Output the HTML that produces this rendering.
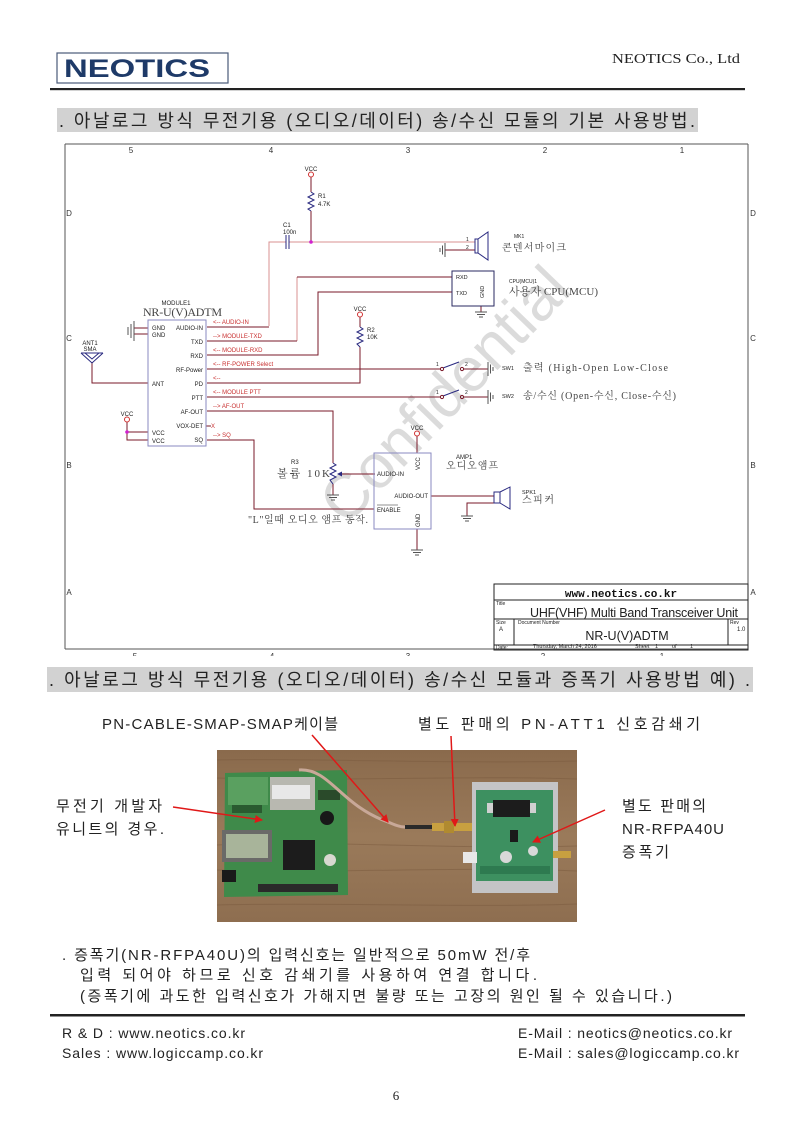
<!DOCTYPE html>
<html><head><meta charset="utf-8">
<style>
html,body{margin:0;padding:0;background:#fff;}
svg{display:block;}
</style></head><body>
<svg width="793" height="1121" viewBox="0 0 793 1121" xmlns="http://www.w3.org/2000/svg">
<defs>
<marker id="ar" markerWidth="8" markerHeight="8" refX="7" refY="4" orient="auto" markerUnits="userSpaceOnUse">
<path d="M0,0 L8,4 L0,8 z" fill="#e01818"/>
</marker>
<clipPath id="cb"><rect x="0" y="640" width="793" height="16"/></clipPath>
<linearGradient id="wood" x1="0" y1="0" x2="0" y2="1">
<stop offset="0" stop-color="#8a6a4c"/><stop offset="0.5" stop-color="#9a7a5a"/><stop offset="1" stop-color="#8e6e50"/>
</linearGradient>
</defs>

<!-- HEADER -->
<rect x="57" y="53" width="171" height="30" fill="#fff" stroke="#4a5a78" stroke-width="1.2"/>
<text x="64" y="77" font-family="Liberation Sans, sans-serif" font-weight="bold" font-size="25" fill="#1e3a68" textLength="146" lengthAdjust="spacingAndGlyphs">NEOTICS</text>
<text x="612" y="63" font-family="Liberation Serif, serif" font-size="14" fill="#222" textLength="128" lengthAdjust="spacingAndGlyphs">NEOTICS Co., Ltd</text>
<rect x="50" y="88" width="695" height="2.2" fill="#222"/>

<!-- TITLE BAR 1 -->
<rect x="57" y="108" width="641" height="24" fill="#d2d2d2"/>
<text x="59" y="127" font-family="Liberation Sans, Noto Sans CJK KR, sans-serif" font-size="18" fill="#222" textLength="636">. 아날로그 방식 무전기용 (오디오/데이터) 송/수신 모듈의 기본 사용방법.</text>

<!-- SCHEMATIC FRAME -->
<g stroke="#555" stroke-width="1" fill="none">
<line x1="65" y1="144" x2="748" y2="144"/>
<line x1="65" y1="144" x2="65" y2="649"/>
<line x1="748" y1="144" x2="748" y2="650"/>
<line x1="65" y1="649" x2="748" y2="649"/>
</g>
<g font-family="Liberation Sans, sans-serif" font-size="8" fill="#333" text-anchor="middle">
<text x="131" y="153">5</text><text x="271" y="153">4</text><text x="408" y="153">3</text><text x="545" y="153">2</text><text x="682" y="153">1</text>
<text x="69" y="216">D</text><text x="69" y="341">C</text><text x="69" y="468">B</text><text x="69" y="595">A</text>
<text x="753" y="216">D</text><text x="753" y="341">C</text><text x="753" y="468">B</text><text x="753" y="595">A</text>
<g clip-path="url(#cb)"><text x="135" y="659">5</text><text x="272" y="659">4</text><text x="408" y="659">3</text><text x="543" y="659">2</text><text x="662" y="659">1</text></g>
</g>

<!-- WATERMARK -->
<text x="0" y="0" transform="translate(445,395) rotate(-46)" text-anchor="middle" dominant-baseline="central" font-family="Liberation Sans, sans-serif" font-size="62" fill="#000" fill-opacity="0.14">Confidential</text>

<!-- WIRES -->
<g fill="none" stroke-width="1">
<g stroke="#d89090">
<polyline points="269,326 269,242 286,242"/>
<line x1="289" y1="242" x2="475" y2="242"/>
<line x1="297" y1="277" x2="297" y2="341"/>
</g>
<g stroke="#7a1a2a">
<line x1="207" y1="327" x2="269" y2="327"/>
<line x1="207" y1="341" x2="297" y2="341"/>
<line x1="297" y1="277" x2="452" y2="277"/>
<polyline points="207,355 318,355 318,292 452,292"/>
<line x1="207" y1="369" x2="441" y2="369"/>
<polyline points="207,383 360,383 360,347"/>
<line x1="207" y1="397" x2="441" y2="397"/>
<polyline points="207,411 333,411 333,463"/>
<polyline points="207,440 254,440 254,509 374,509"/>
<line x1="375" y1="474" x2="340" y2="474"/>
<line x1="431" y1="496" x2="494" y2="496"/>
<polyline points="494,503 467,503 467,516"/>
<line x1="417" y1="436" x2="417" y2="453"/>
<line x1="417" y1="529" x2="417" y2="550"/>
<line x1="333" y1="484" x2="333" y2="495"/>
<line x1="360" y1="317" x2="360" y2="327"/>
<line x1="311" y1="177" x2="311" y2="192"/>
<line x1="311" y1="211" x2="311" y2="242"/>
<line x1="464" y1="369" x2="488" y2="369"/>
<line x1="464" y1="397" x2="488" y2="397"/>
<line x1="445" y1="250" x2="475" y2="250"/>
<line x1="481" y1="306" x2="481" y2="312"/>
<polyline points="92,362 92,383 148,383"/>
<line x1="134" y1="328" x2="148" y2="328"/>
<line x1="134" y1="334" x2="148" y2="334"/>
<polyline points="127,422 127,440 148,440"/>
<line x1="127" y1="432" x2="148" y2="432"/>
<line x1="206" y1="426" x2="211" y2="426"/>
</g>
</g>

<!-- COMPONENT SYMBOLS -->
<g fill="none" stroke="#2a2a80" stroke-width="1">
<polyline points="311,192 314,194 308,197 314,200 308,203 314,206 308,209 311,211"/>
<polyline points="360,327 363,329 357,332 363,335 357,338 363,341 357,344 360,347"/>
<polyline points="333,463 336,465 330,468 336,471 330,474 336,477 330,480 333,484"/>
<line x1="286" y1="235" x2="286" y2="249"/>
<line x1="289" y1="235" x2="289" y2="249"/>
<!-- mic -->
<rect x="475" y="239" width="3" height="14"/>
<polyline points="478,239 488,232 488,260 478,253"/>
<!-- speaker -->
<rect x="494" y="492" width="6" height="11"/>
<polyline points="500,492 510,487 510,509 500,503"/>
<!-- switches -->
<line x1="443" y1="368" x2="459" y2="362"/>
<line x1="443" y1="396" x2="459" y2="390"/>
<!-- antenna -->
<polyline points="81,353 92,363 103,353"/>
<polyline points="85,353 92,359 99,353"/>
<line x1="81" y1="353" x2="103" y2="353"/>
</g>
<g fill="none" stroke="#7a1a2a" stroke-width="1">
<circle cx="442" cy="369" r="1.6"/><circle cx="462" cy="369" r="1.6"/>
<circle cx="442" cy="397" r="1.6"/><circle cx="462" cy="397" r="1.6"/>
</g>
<path d="M337,474 l5,-2.5 v5 z" fill="#2a2a80"/>
<!-- grounds -->
<g stroke="#555" stroke-width="1" fill="none">
<line x1="445" y1="243" x2="445" y2="257"/><line x1="442.5" y1="245.5" x2="442.5" y2="254.5"/><line x1="440" y1="248" x2="440" y2="252"/>
<line x1="134" y1="321" x2="134" y2="341"/><line x1="131" y1="324" x2="131" y2="338"/><line x1="128" y1="327" x2="128" y2="335"/>
<line x1="475" y1="312" x2="487" y2="312"/><line x1="477" y1="314.5" x2="485" y2="314.5"/><line x1="479" y1="317" x2="483" y2="317"/>
<line x1="488" y1="362" x2="488" y2="376"/><line x1="490.5" y1="364.5" x2="490.5" y2="373.5"/><line x1="493" y1="367" x2="493" y2="371"/>
<line x1="488" y1="390" x2="488" y2="404"/><line x1="490.5" y1="392.5" x2="490.5" y2="401.5"/><line x1="493" y1="395" x2="493" y2="399"/>
<line x1="327" y1="495" x2="339" y2="495"/><line x1="329" y1="497.5" x2="337" y2="497.5"/><line x1="331" y1="500" x2="335" y2="500"/>
<line x1="411" y1="550" x2="423" y2="550"/><line x1="413" y1="552.5" x2="421" y2="552.5"/><line x1="415" y1="555" x2="419" y2="555"/>
<line x1="461" y1="516" x2="473" y2="516"/><line x1="463" y1="518.5" x2="471" y2="518.5"/><line x1="465" y1="521" x2="469" y2="521"/>
</g>
<!-- VCC circles -->
<g fill="#fff" stroke="#d03030" stroke-width="1">
<circle cx="311" cy="174.5" r="2.5"/><circle cx="360" cy="314.5" r="2.5"/>
<circle cx="127" cy="419.5" r="2.5"/><circle cx="417" cy="433.5" r="2.5"/>
</g>
<g fill="#d020d0"><circle cx="311" cy="242" r="1.8"/><circle cx="127" cy="432" r="1.8"/></g>

<!-- BOXES -->
<rect x="148" y="320" width="58" height="126" fill="none" stroke="#8a8ac0" stroke-width="1"/>
<rect x="452" y="271" width="42" height="35" fill="none" stroke="#2a2a60" stroke-width="1"/>
<rect x="374" y="453" width="57" height="76" fill="none" stroke="#8a8ac0" stroke-width="1"/>

<!-- SMALL TEXT -->
<g font-family="Liberation Sans, sans-serif" font-size="6" fill="#222">
<text x="311" y="171" text-anchor="middle">VCC</text>
<text x="360" y="311" text-anchor="middle">VCC</text>
<text x="127" y="416" text-anchor="middle">VCC</text>
<text x="417" y="430" text-anchor="middle">VCC</text>
<text x="318" y="198">R1</text><text x="318" y="206">4.7K</text>
<text x="283" y="227">C1</text><text x="283" y="234">100n</text>
<text x="367" y="332">R2</text><text x="367" y="339">10K</text>
<text x="291" y="464">R3</text>
<text x="466" y="241" font-size="5">1</text><text x="466" y="249" font-size="5">2</text>
<text x="514" y="238" font-size="5">MK1</text>
<text x="456" y="279" font-size="5.5">RXD</text><text x="456" y="295" font-size="5.5">TXD</text>
<text transform="translate(484,298) rotate(-90)" font-size="5.5">GND</text>
<text x="509" y="283" font-size="5">CPU(MCU)1</text>
<text x="436" y="366" font-size="5">1</text><text x="465" y="366" font-size="5">2</text>
<text x="436" y="394" font-size="5">1</text><text x="465" y="394" font-size="5">2</text>
<text x="502" y="370" font-size="5.5">SW1</text><text x="502" y="398" font-size="5.5">SW2</text>
<text x="176" y="305" text-anchor="middle">MODULE1</text>
<text x="90" y="345" text-anchor="middle">ANT1</text><text x="90" y="351" text-anchor="middle">SMA</text>
<text x="152" y="330">GND</text><text x="152" y="337">GND</text>
<text x="152" y="386">ANT</text><text x="152" y="435">VCC</text><text x="152" y="443">VCC</text>
<g text-anchor="end">
<text x="203" y="330">AUDIO-IN</text><text x="203" y="344">TXD</text><text x="203" y="358">RXD</text>
<text x="203" y="372">RF-Power</text><text x="203" y="386">PD</text><text x="203" y="400">PTT</text>
<text x="203" y="414">AF-OUT</text><text x="203" y="428">VOX-DET</text><text x="203" y="442">SQ</text>
<text x="428" y="498">AUDIO-OUT</text>
</g>
<text x="377" y="476">AUDIO-IN</text>
<text x="377" y="512">ENABLE</text>
<text transform="translate(420,470) rotate(-90)">VCC</text>
<text transform="translate(420,527) rotate(-90)">GND</text>
<text x="456" y="459">AMP1</text>
<text x="522" y="494" font-size="5.5">SPK1</text>
<text x="496" y="605" font-size="5">Title</text>
<text x="496" y="624" font-size="5">Size</text><text x="499" y="631">A</text>
<text x="518" y="624" font-size="5">Document Number</text>
<text x="730" y="624" font-size="5">Rev</text><text x="737" y="631">1.0</text>
<text x="496" y="649" font-size="5">Date:</text>
<text x="533" y="648" font-size="5.5">Thursday, March 24, 2016</text>
<text x="635" y="648" font-size="5.5">Sheet</text><text x="655" y="648" font-size="5.5">1</text>
<text x="672" y="648" font-size="5.5">of</text><text x="690" y="648" font-size="5.5">1</text>
</g>
<line x1="377" y1="505" x2="398" y2="505" stroke="#222" stroke-width="0.6"/>
<!-- red net labels -->
<g font-family="Liberation Sans, sans-serif" font-size="6" fill="#c83030">
<text x="213" y="324">&lt;-- AUDIO-IN</text>
<text x="213" y="338">--&gt; MODULE-TXD</text>
<text x="213" y="352">&lt;-- MODULE-RXD</text>
<text x="213" y="366">&lt;-- RF-POWER Select</text>
<text x="213" y="380">&lt;--</text>
<text x="213" y="394">&lt;-- MODULE PTT</text>
<text x="213" y="408">--&gt; AF-OUT</text>
<text x="211" y="428">X</text>
<text x="213" y="437">--&gt; SQ</text>
</g>
<!-- korean serif labels -->
<g font-family="Liberation Serif, Noto Serif CJK SC, serif" fill="#444">
<text x="143" y="316" font-size="12" textLength="79">NR-U(V)ADTM</text>
<text x="502" y="251" font-size="10" textLength="64">콘덴서마이크</text>
<text x="509" y="295" font-size="11" textLength="89">사용자 CPU(MCU)</text>
<text x="523" y="371" font-size="10" textLength="145">출력 (High-Open Low-Close</text>
<text x="523" y="399" font-size="10" textLength="153">송/수신 (Open-수신, Close-수신)</text>
<text x="277" y="477" font-size="11" textLength="53">볼륨 10K</text>
<text x="446" y="469" font-size="10" textLength="52">오디오앰프</text>
<text x="522" y="503" font-size="10" textLength="32">스피커</text>
<text x="248" y="523" font-size="10" textLength="120">"L"일때 오디오 앰프 동작.</text>
</g>

<!-- TITLE BLOCK -->
<g fill="none" stroke="#222" stroke-width="1">
<rect x="494" y="584" width="254" height="66"/>
<line x1="494" y1="600" x2="748" y2="600"/>
<line x1="494" y1="619" x2="748" y2="619"/>
<line x1="494" y1="645" x2="748" y2="645"/>
<line x1="514" y1="619" x2="514" y2="645"/>
<line x1="728" y1="619" x2="728" y2="645"/>
</g>
<text x="621" y="597" text-anchor="middle" font-family="Liberation Mono, monospace" font-weight="bold" font-size="11" fill="#111">www.neotics.co.kr</text>
<text x="530" y="617" font-family="Liberation Sans, sans-serif" font-size="12.5" fill="#222" textLength="208">UHF(VHF) Multi Band Transceiver Unit</text>
<text x="627" y="640" text-anchor="middle" font-family="Liberation Sans, sans-serif" font-size="12.5" fill="#222">NR-U(V)ADTM</text>

<!-- TITLE BAR 2 -->
<rect x="47" y="667" width="706" height="25" fill="#d2d2d2"/>
<text x="49" y="686" font-family="Liberation Sans, Noto Sans CJK KR, sans-serif" font-size="18" fill="#222" textLength="701">. 아날로그 방식 무전기용 (오디오/데이터) 송/수신 모듈과 증폭기 사용방법 예) .</text>

<!-- PHOTO LABELS -->
<g font-family="Liberation Sans, Noto Sans CJK KR, sans-serif" font-size="15" fill="#222">
<text x="102" y="729" textLength="236">PN-CABLE-SMAP-SMAP케이블</text>
<text x="418" y="729" textLength="282">별도 판매의 PN-ATT1 신호감쇄기</text>
<text x="56" y="811" textLength="106">무전기 개발자</text>
<text x="56" y="834" textLength="108">유니트의 경우.</text>
<text x="622" y="811" textLength="84">별도 판매의</text>
<text x="622" y="834" textLength="102">NR-RFPA40U</text>
<text x="622" y="857" textLength="47">증폭기</text>
</g>

<!-- PHOTO -->
<rect x="217" y="750" width="360" height="172" fill="url(#wood)"/>
<g stroke="#7a5a3e" stroke-width="1" opacity="0.5" fill="none">
<path d="M217,760 C300,758 450,764 577,761"/>
<path d="M217,778 C320,782 460,775 577,779"/>
<path d="M217,845 C330,840 460,850 577,846"/>
<path d="M217,870 C320,874 470,866 577,871"/>
<path d="M217,905 C330,902 470,908 577,904"/>
</g>
<!-- left board -->
<polygon points="225,773 347,770 348,895 224,897" fill="#3f8a4a"/>
<rect x="228" y="777" width="40" height="28" fill="#5aa060"/>
<rect x="270" y="777" width="45" height="33" fill="#b8b8b0"/>
<rect x="272" y="785" width="38" height="14" fill="#e8e8e8"/>
<rect x="222" y="830" width="50" height="32" fill="#6a6a68"/>
<rect x="226" y="834" width="42" height="24" fill="#a8b49a"/>
<rect x="283" y="840" width="32" height="30" fill="#1c1c1c"/>
<circle cx="327" cy="818" r="7" fill="#181818"/>
<rect x="318" y="790" width="22" height="10" fill="#2a4a2a"/>
<rect x="232" y="805" width="30" height="8" fill="#2a5a30"/>
<rect x="258" y="884" width="80" height="8" fill="#2a2a2a"/>
<rect x="222" y="870" width="14" height="12" fill="#1a1a1a"/>
<circle cx="330" cy="860" r="6" fill="#d8d8d0"/>
<!-- cable -->
<path d="M299,770 C330,768 340,805 388,822 C395,825 400,827 405,827" fill="none" stroke="#c8a898" stroke-width="3"/>
<line x1="405" y1="827" x2="432" y2="827" stroke="#2a2a2a" stroke-width="4"/>
<rect x="432" y="823" width="42" height="8" fill="#c8a040"/>
<rect x="444" y="821" width="10" height="12" fill="#b08a30"/>
<!-- right amp -->
<rect x="472" y="782" width="86" height="111" fill="#c4c4c6"/>
<rect x="476" y="790" width="77" height="91" fill="#3d9060"/>
<rect x="493" y="800" width="37" height="17" fill="#1c1c1c"/>
<rect x="487" y="803" width="6" height="10" fill="#d0d0d0"/>
<rect x="530" y="803" width="6" height="10" fill="#d0d0d0"/>
<rect x="463" y="852" width="14" height="11" fill="#e8e8e8"/>
<rect x="553" y="851" width="18" height="7" fill="#c8a040"/>
<circle cx="506" cy="857" r="6" fill="#d8d8d8"/>
<circle cx="533" cy="851" r="5" fill="#d8d8d8"/>
<rect x="510" y="830" width="8" height="12" fill="#1a1a1a"/>
<rect x="480" y="866" width="70" height="8" fill="#2e7a50"/>
<!-- red arrows -->
<g stroke="#e01818" stroke-width="1.5" fill="none" marker-end="url(#ar)">
<line x1="312" y1="735" x2="388" y2="822"/>
<line x1="451" y1="736" x2="455" y2="826"/>
<line x1="173" y1="807" x2="262" y2="820"/>
<line x1="605" y1="810" x2="533" y2="842"/>
</g>

<!-- BODY TEXT -->
<g font-family="Liberation Sans, Noto Sans CJK KR, sans-serif" font-size="15" fill="#222">
<text x="62" y="960" textLength="468">. 증폭기(NR-RFPA40U)의 입력신호는 일반적으로 50mW 전/후</text>
<text x="80" y="980" textLength="457">입력 되어야 하므로 신호 감쇄기를 사용하여 연결 합니다.</text>
<text x="80" y="1001" textLength="592">(증폭기에 과도한 입력신호가 가해지면 불량 또는 고장의 원인 될 수 있습니다.)</text>
</g>
<rect x="50" y="1014" width="695" height="2.5" fill="#222"/>
<g font-family="Liberation Sans, sans-serif" font-size="14" fill="#222">
<text x="62" y="1038" textLength="183">R &amp; D : www.neotics.co.kr</text>
<text x="62" y="1058" textLength="201">Sales : www.logiccamp.co.kr</text>
<text x="518" y="1038" textLength="214">E-Mail : neotics@neotics.co.kr</text>
<text x="518" y="1058" textLength="221">E-Mail : sales@logiccamp.co.kr</text>
</g>
<text x="396" y="1100" text-anchor="middle" font-family="Liberation Serif, serif" font-size="13" fill="#222">6</text>
</svg>
</body></html>
